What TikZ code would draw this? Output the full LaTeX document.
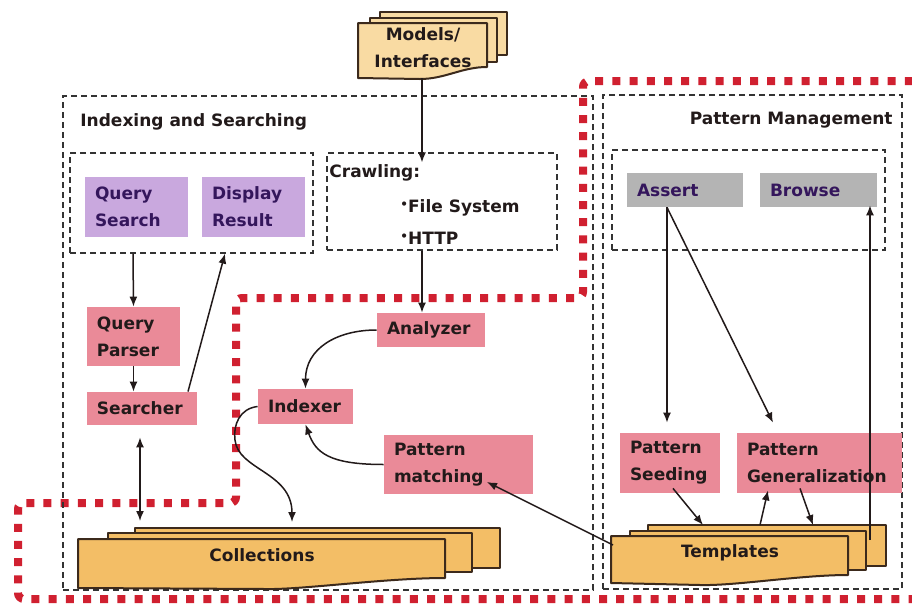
\documentclass[tikz,border=0pt]{standalone}
\usepackage{fontspec}
\setmainfont{DejaVu Sans}
\usetikzlibrary{arrows.meta,calc}

\definecolor{boxpink}{RGB}{234,138,152}
\definecolor{boxlav}{RGB}{201,168,222}
\definecolor{boxgray}{RGB}{180,180,180}
\definecolor{paperpeach}{RGB}{249,219,163}
\definecolor{paperorange}{RGB}{243,190,102}
\definecolor{redline}{RGB}{208,32,48}
\definecolor{inkpurple}{RGB}{52,22,92}
\definecolor{ink}{RGB}{34,26,26}
\definecolor{paperedge}{RGB}{60,42,28}

\begin{document}
\begin{tikzpicture}[x=0.5pt,y=-0.5pt,
  every node/.style={font=\fontsize{8.5pt}{13.5pt}\selectfont\bfseries, text=ink},
  plain/.style={inner sep=0pt},
  tagbox/.style={rectangle, inner xsep=5pt, inner ysep=0pt, align=left, anchor=center},
  pinkbox/.style={tagbox, fill=boxpink},
  lavbox/.style={tagbox, fill=boxlav, text=inkpurple},
  graybox/.style={tagbox, fill=boxgray, text=inkpurple},
  groupbox/.style={rectangle, draw=black!80, line width=0.6pt, dash pattern=on 3pt off 2pt, inner sep=0pt},
  paper/.style={draw=paperedge, line width=1pt, line join=round},
  conn/.style={draw=ink, line width=0.75pt},
  arr/.style={conn, -{Latex[length=5pt,width=4pt]}},
  darr/.style={conn, {Latex[length=5pt,width=4pt]}-{Latex[length=5pt,width=4pt]}},
  zone/.style={draw=redline, line width=4pt, dash pattern=on 4pt off 4.6pt, rounded corners=3pt},
]
\useasboundingbox (0,0) rectangle (912,606);
\clip (0,0) rectangle (912,606);
\fill[white] (0,0) rectangle (912,606);

% red dotted zone around the indexing core
\draw[zone] (930,81) -- (583,81) -- (583,298) -- (236,298) -- (236,503) -- (18,503) -- (18,599) -- (930,599);

% dashed grouping boxes
\node[groupbox, minimum width=265pt, minimum height=247pt] (idxbox) at (328,343) {};
\node[groupbox, minimum width=149.5pt, minimum height=247pt] (pmbox) at (752.5,342) {};
\node[groupbox, minimum width=121.5pt, minimum height=50pt] (querybox) at (191.5,203) {};
\node[groupbox, minimum width=115pt, minimum height=48.5pt] (crawl) at (442,201.5) {};
\node[groupbox, minimum width=136.5pt, minimum height=50pt] (assertbox) at (748.5,200) {};

% group titles
\node[plain, anchor=west] (idxtitle) at (80,122) {Indexing and Searching};
\node[plain, anchor=east] (pmtitle) at (893,120) {Pattern Management};

% crawling sources
\node[plain, anchor=west] (crawltitle) at (329,173) {Crawling:};
\node[plain, anchor=west] (crawlfs) at (400,208) {\raisebox{0.45ex}{\fontsize{6pt}{6pt}\selectfont\textbullet}File System};
\node[plain, anchor=west] (crawlhttp) at (400,238) {\raisebox{0.45ex}{\fontsize{6pt}{6pt}\selectfont\textbullet}HTTP};

% stacked documents: Models/Interfaces
\draw[paper, fill=paperpeach] (380,12) rectangle (507,55);
\draw[paper, fill=paperpeach] (370,18) rectangle (497,62);
\draw[paper, fill=paperpeach] (358,23) -- (487,23) -- (487,67)
  .. controls (462,67) and (445,79) .. (420,79) -- (358,78) -- cycle;
\node[plain, align=center] (models) at (423,48) {Models/\\Interfaces};

% stacked documents: Collections
\draw[paper, fill=paperorange] (135,528) rectangle (500,568);
\draw[paper, fill=paperorange] (108,533) rectangle (472,572);
\draw[paper, fill=paperorange] (78,539) -- (445,539) -- (445,578)
  .. controls (385,578) and (300,590) .. (265,589) -- (78,588) -- cycle;
\node[plain] (collections) at (262,555) {Collections};

% stacked documents: Templates
\draw[paper, fill=paperorange] (648,525) rectangle (886,566);
\draw[paper, fill=paperorange] (630,531) rectangle (866,570);
\draw[paper, fill=paperorange] (611,536) -- (848,536) -- (848,575)
  .. controls (800,575) and (735,586) .. (700,585) -- (611,583) -- cycle;
\node[plain] (templates) at (730,553) {Templates};

% process boxes
\node[lavbox, text width=41.5pt, minimum height=30pt] (qsearch) at (136.5,207) {Query\\Search};
\node[lavbox, text width=41.5pt, minimum height=30pt] (dresult) at (253.5,207) {Display\\Result};
\node[pinkbox, text width=36.5pt, minimum height=29.5pt] (qparser) at (133.5,336.5) {Query\\Parser};
\node[pinkbox, text width=45pt, minimum height=16.5pt] (searcher) at (142,408.5) {Searcher};
\node[pinkbox, text width=44pt, minimum height=17pt] (analyzer) at (431,330) {Analyzer};
\node[pinkbox, text width=37.5pt, minimum height=17.5pt] (indexer) at (305.5,406.5) {Indexer};
\node[pinkbox, text width=64.5pt, minimum height=29.5pt] (pmatch) at (458.5,464.5) {Pattern\\matching};
\node[graybox, text width=48pt, minimum height=17pt] (assert) at (685,190) {Assert};
\node[graybox, text width=48.5pt, minimum height=17pt] (browse) at (818.5,190) {Browse};
\node[pinkbox, text width=40pt, minimum height=30pt] (pseed) at (670,463) {Pattern\\Seeding};
\node[pinkbox, text width=72.5pt, minimum height=30pt] (pgen) at (819.5,463) {Pattern\\Generalization};

\coordinate (idxbend) at (235,440);

% connectors: indexing side
\draw[arr] ($(models.center)+(-1,30)$) -- ($(crawl.north)+(-20,10)$);
\draw[arr] ($(crawl.south)+(-20,0)$) -- ($(analyzer.north)+(-9,0)$);
\draw[arr] (analyzer.west) .. controls +(-40,0) and +(0,-40) .. (indexer.north);
\draw[arr] (pmatch.west) .. controls +(-55,0) and +(10,28) .. (indexer.south);
\draw[arr] (indexer.west) .. controls +(-18,2) and +(-2,-15) .. (idxbend)
  .. controls +(3,30) and +(0,-50) .. ($(collections.center)+(30,-33)$);
\draw[arr] ($(templates.center)+(-117,-8)$) -- ($(pmatch.center)+(28.5,17.5)$);

% connectors: searching side
\draw[arr] ($(querybox.south)+(-58.5,0)$) -- (qparser.north);
\draw[arr] (qparser.south) -- (qparser.south |- searcher.north);
\draw[arr] ($(searcher.north)+(46,0)$) -- ($(querybox.south)+(33.5,0)$);
\draw[darr] ($(searcher.south)+(-2,12)$) -- ($(collections.center)+(-122,-34)$);

% connectors: pattern management
\draw[arr] ($(assert.south)+(-18,0)$) -- ($(pseed.north)+(-3,-10)$);
\draw[arr] ($(assert.south)+(-18,0)$) -- ($(pgen.north)+(-46.5,-10)$);
\draw[arr] ($(pseed.south)+(3,-5)$) -- ($(templates.center)+(-27,-28)$);
\draw[arr] ($(templates.center)+(30,-28)$) -- ($(pgen.south)+(-51.5,-3)$);
\draw[arr] ($(pgen.south)+(-19.5,-5)$) -- ($(templates.center)+(83,-28)$);
\draw[arr] ($(templates.center)+(140,-13)$) -- ($(browse.south)+(51.5,-2)$);
\end{tikzpicture}
\end{document}
